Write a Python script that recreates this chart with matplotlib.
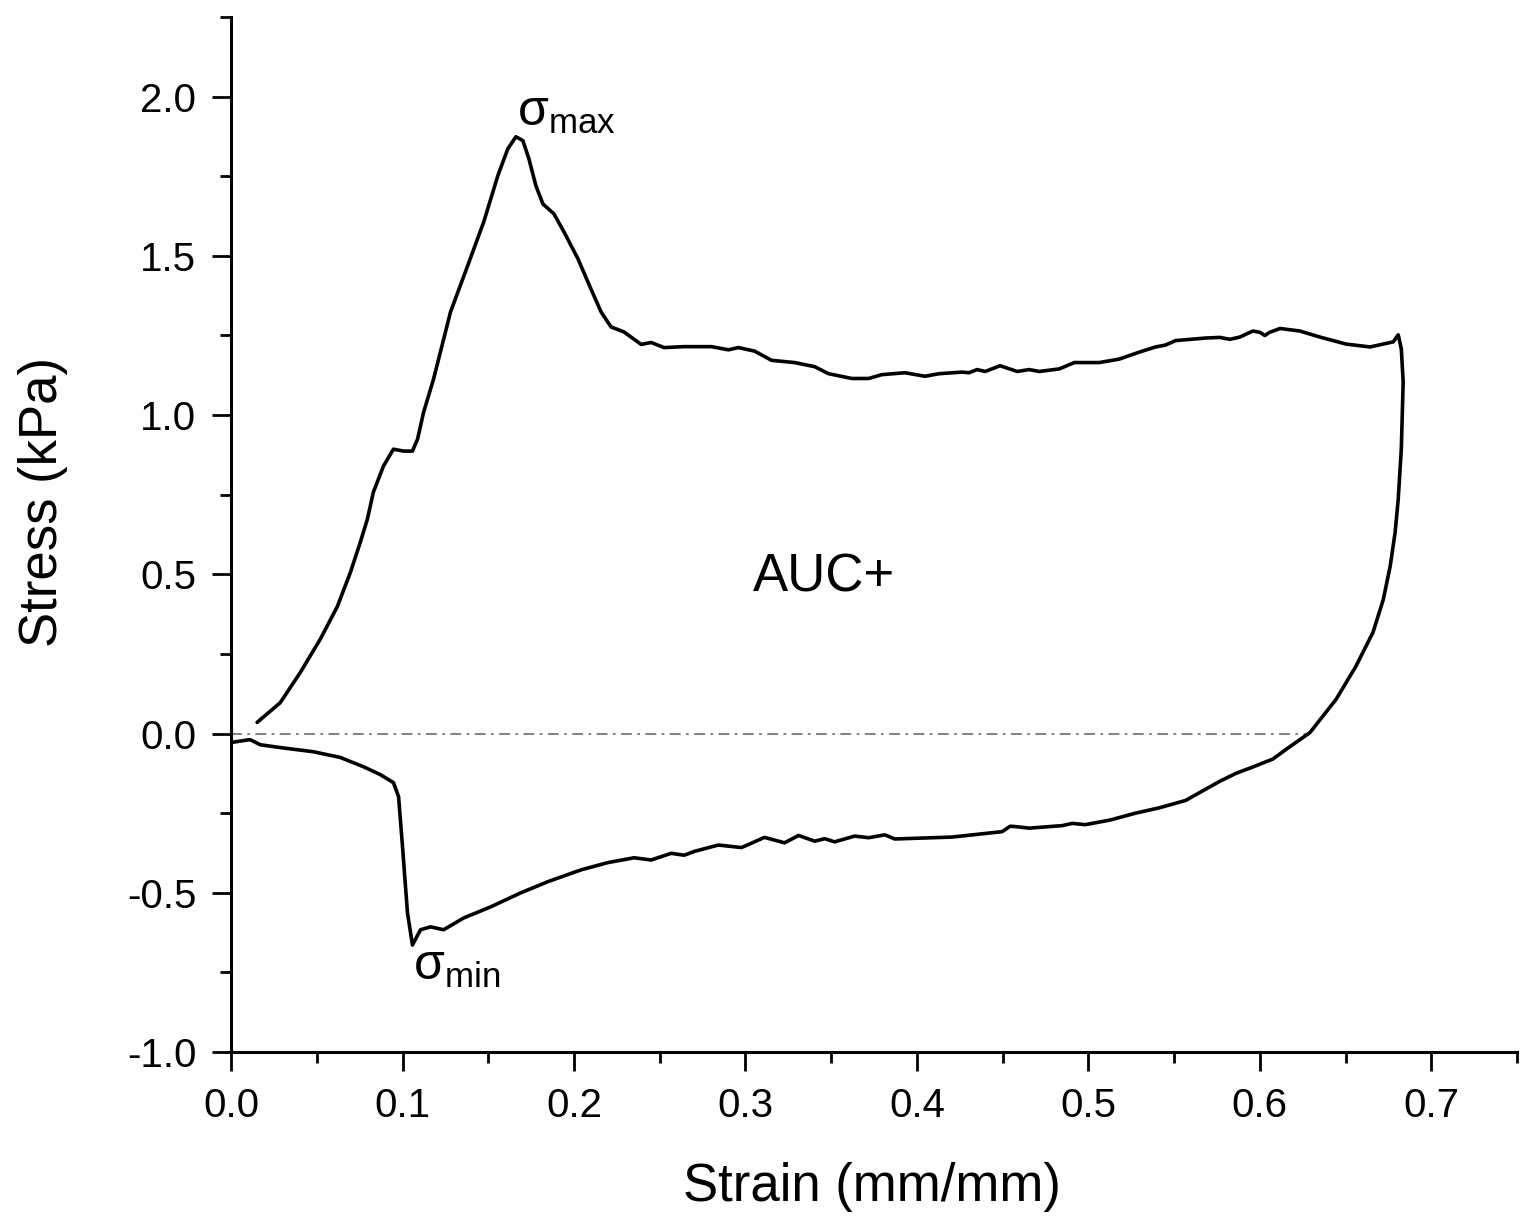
import numpy as np
import matplotlib
matplotlib.use('Agg')
import matplotlib.pyplot as plt

plt.rcParams['font.family'] = ['Liberation Sans', 'DejaVu Sans']
plt.rcParams['axes.unicode_minus'] = False

# loading branch (upper)
strain_up = [0.0152, 0.0287, 0.0404, 0.0520, 0.0620, 0.0696, 0.0754, 0.0795, 0.0830, 0.0889,
             0.0947, 0.1006, 0.1058, 0.1088, 0.1123, 0.1181, 0.1280, 0.1380, 0.1474, 0.1556,
             0.1614, 0.1661, 0.1702, 0.1737, 0.1778, 0.1819, 0.1883, 0.1942, 0.2023, 0.2099,
             0.2158, 0.2216, 0.2292, 0.2392, 0.2450, 0.2526, 0.2643, 0.2801, 0.2901, 0.2959,
             0.3053, 0.3152, 0.3287, 0.3404, 0.3485, 0.3620, 0.3719, 0.3795, 0.3930, 0.4047,
             0.4129, 0.4263, 0.4304, 0.4351, 0.4398, 0.4485, 0.4585, 0.4655, 0.4713, 0.4830,
             0.4918, 0.5064, 0.5181, 0.5298, 0.5392, 0.5450, 0.5509, 0.5684, 0.5766, 0.5825,
             0.5883, 0.5959, 0.6000, 0.6029, 0.6058, 0.6117, 0.6234, 0.6351, 0.6503, 0.6643,
             0.6778, 0.6807]
stress_up = [0.035, 0.097, 0.192, 0.296, 0.399, 0.506, 0.601, 0.673, 0.758, 0.840,
             0.893, 0.887, 0.887, 0.925, 1.009, 1.113, 1.324, 1.469, 1.607, 1.752,
             1.836, 1.874, 1.862, 1.805, 1.720, 1.663, 1.632, 1.575, 1.491, 1.396,
             1.324, 1.277, 1.261, 1.222, 1.228, 1.212, 1.215, 1.215, 1.205, 1.212,
             1.201, 1.172, 1.165, 1.152, 1.130, 1.115, 1.115, 1.127, 1.133, 1.122,
             1.130, 1.135, 1.133, 1.143, 1.137, 1.155, 1.137, 1.143, 1.137, 1.145,
             1.165, 1.165, 1.176, 1.198, 1.214, 1.220, 1.234, 1.242, 1.244, 1.238,
             1.245, 1.264, 1.260, 1.250, 1.260, 1.272, 1.264, 1.245, 1.223, 1.214,
             1.230, 1.252]

# unloading branch (right side down, then lower curve back to zero strain)
strain_down = [0.6825, 0.6836, 0.6825, 0.6807, 0.6789, 0.6760, 0.6720, 0.6660, 0.6560, 0.6444,
               0.6292, 0.6152, 0.6076, 0.5959, 0.5860, 0.5766, 0.5667, 0.5567, 0.5415, 0.5275,
               0.5123, 0.4982, 0.4906, 0.4848, 0.4655, 0.4573, 0.4544, 0.4497, 0.4322, 0.4205,
               0.3871, 0.3813, 0.3719, 0.3637, 0.3520, 0.3462, 0.3404, 0.3310, 0.3228, 0.3111,
               0.2977, 0.2842, 0.2702, 0.2643, 0.2567, 0.2450, 0.2351, 0.2199, 0.2041, 0.1848,
               0.1690, 0.1515, 0.1357, 0.1240, 0.1164, 0.1105, 0.1058, 0.1029, 0.1000, 0.0977,
               0.0947, 0.0871, 0.0772, 0.0637, 0.0480, 0.0287, 0.0170, 0.0111, 0.0]
stress_down = [1.208, 1.104, 0.893, 0.736, 0.632, 0.525, 0.421, 0.318, 0.211, 0.107,
               0.003, -0.050, -0.080, -0.105, -0.125, -0.150, -0.180, -0.210, -0.233, -0.250,
               -0.272, -0.286, -0.282, -0.289, -0.297, -0.292, -0.291, -0.308, -0.318, -0.325,
               -0.331, -0.318, -0.327, -0.322, -0.340, -0.330, -0.338, -0.320, -0.343, -0.326,
               -0.358, -0.350, -0.370, -0.382, -0.376, -0.397, -0.390, -0.405, -0.428, -0.465,
               -0.500, -0.544, -0.579, -0.616, -0.607, -0.616, -0.664, -0.563, -0.355, -0.198,
               -0.154, -0.129, -0.104, -0.075, -0.057, -0.044, -0.035, -0.019, -0.028]

zero_end = 0.629

strain = np.array(strain_up + strain_down)
stress = np.array(stress_up + stress_down)

fig = plt.figure(figsize=(15.21, 12.25), dpi=100)
ax = fig.add_axes([0.1519, 0.1412, 0.9974 - 0.1519, 0.9861 - 0.1412])

ax.plot([0, zero_end], [0, 0], color='#777777', lw=1.3, ls=(0, (6, 3, 1.5, 3)))
ax.plot(strain, stress, color='black', lw=2.6, solid_joinstyle='round', solid_capstyle='round')

ax.set_xlim(0, 0.75)
ax.set_ylim(-1.0, 2.25)
ax.set_xticks(np.arange(0, 0.71, 0.1))
ax.set_xticks(np.arange(0.05, 0.76, 0.1), minor=True)
ax.set_yticks(np.arange(-1.0, 2.01, 0.5))
ax.set_yticks(np.arange(-0.75, 2.26, 0.5), minor=True)
ax.xaxis.set_major_formatter(matplotlib.ticker.FormatStrFormatter('%.1f'))
ax.yaxis.set_major_formatter(matplotlib.ticker.FormatStrFormatter('%.1f'))

for s in ['top', 'right']:
    ax.spines[s].set_visible(False)
for s in ['left', 'bottom']:
    ax.spines[s].set_linewidth(2.2)

ax.tick_params(which='major', direction='out', length=14, width=2.0, labelsize=29, pad=11)
ax.tick_params(which='minor', direction='out', length=8, width=2.0)

ax.set_xlabel('Strain (mm/mm)', fontsize=38)
ax.set_ylabel('Stress (kPa)', fontsize=38)
ax.xaxis.set_label_coords(0.4984, -0.106)
ax.yaxis.set_label_coords(-0.127, 0.531)

ax.text(0.3456, 0.49, 'AUC+', fontsize=38, ha='center', va='center')
ax.text(0.167, 1.909, r'$\mathregular{σ_{max}}$', fontsize=36, ha='left', va='baseline')
ax.text(0.1064, -0.774, r'$\mathregular{σ_{min}}$', fontsize=36, ha='left', va='baseline')

fig.savefig('out.png', dpi=100)
